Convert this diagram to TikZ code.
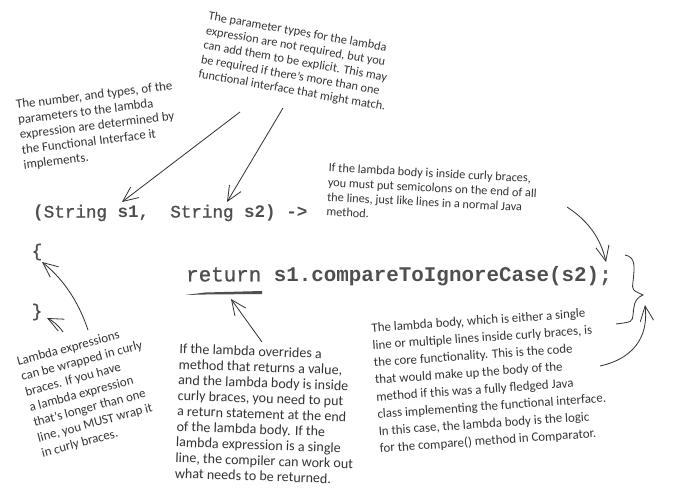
\documentclass[tikz,border=0pt]{standalone}
\usepackage{fontspec}
\setmainfont{Carlito}
\newfontfamily\codefont{Liberation Mono}[UprightFeatures={FakeBold=1.2}]
\usetikzlibrary{arrows.meta,positioning}

\definecolor{ink}{HTML}{333333}
\definecolor{codegray}{HTML}{4F4F4F}
\tikzset{
  note/.style={text=ink,align=left,inner sep=0pt,font=\fontsize{10.5}{12.5}\selectfont},
  code/.style={text=codegray,inner sep=0pt,font=\codefont\fontsize{15}{18}\selectfont},
  pen/.style={draw=ink,line width=0.7pt},
  barb/.style={pen,-{Straight Barb[length=4.5mm,width=4mm]}}
}

\begin{document}
\begin{tikzpicture}[x=0.03cm,y=-0.03cm]
\useasboundingbox (0,0) rectangle (688,496);

% the code
\node (sig) at (33,213) [code,anchor=west] {\textbf{(}String \textbf{s1,}\ \ String \textbf{s2) ->}};
\node (lbr) at (37,252) [code] {\{};
\node (body) at (186,276) [code,anchor=west,font=\codefont\fontsize{17.8}{20}\selectfont] {return \textbf{s1.compareToIgnoreCase(s2)};};
\node (rbr) at (37,312) [code] {\}};

% the notes
\node (number) at (98,126) [note,rotate=7,font=\fontsize{11}{13}\selectfont] {The number, and types, of the\\parameters to the lambda\\expression are determined by\\the Functional Interface it\\implements.};
\node (types) at (297,62) [note,rotate=-10] {The parameter types for the lambda\\expression are not required, but you\\can add them to be explicit. This may\\be required if there's more than one\\functional interface that might match.};
\node (semi) at (432,195) [note,rotate=-3] {If the lambda body is inside curly braces,\\you must put semicolons on the end of all\\the lines, just like lines in a normal Java\\method.};
\node (wrap) at (90,392) [note,rotate=15,font=\fontsize{11}{13.5}\selectfont] {Lambda expressions\\can be wrapped in curly\\braces. If you have\\a lambda expression\\that's longer than one\\line, you MUST wrap it\\in curly braces.};
\node (ret) at (266,414) [note,rotate=-2,font=\fontsize{12}{13.3}\selectfont] {If the lambda overrides a\\method that returns a value,\\and the lambda body is inside\\curly braces, you need to put\\a return statement at the end\\of the lambda body. If the\\lambda expression is a single\\line, the compiler can work out\\what needs to be returned.};
\node (core) at (490,381) [note,rotate=4,font=\fontsize{11}{14.7}\selectfont] {The lambda body, which is either a single\\line or multiple lines inside curly braces, is\\the core functionality. This is the code\\that would make up the body of the\\method if this was a fully fledged Java\\class implementing the functional interface.\\In this case, the lambda body is the logic\\for the compare() method in Comparator.};

% ends of the arrows
\coordinate (A) at (240,112);
\coordinate (B) at (122,202);
\coordinate (C) at (283,108);
\coordinate (D) at (227,202);
\coordinate (E) at (567,207);
\coordinate (F) at (606,262);
\coordinate (G) at (88,330);
\coordinate (H) at (42,262);
\coordinate (I) at (63,332);
\coordinate (J) at (47,318);
\coordinate (K) at (262,342);
\coordinate (L) at (231,299);
\coordinate (M) at (600,366);
\coordinate (N) at (645,305);

\draw [barb] (A) -- (B);
\draw [barb] (C) -- (D);
\draw [barb] (E) .. controls (590,222) and (601,240) .. (F);
\draw [barb] (G) .. controls (78,300) and (62,278) .. (H);
\draw [barb] (I) .. controls (58,325) and (53,321) .. (J);
\draw [barb] (K) -- (L);
\draw [barb] (M) .. controls (640,357) and (648,330) .. (N);

% underline and brace
\fill [codegray] (185,295) -- (205,292.5) -- (262,291) -- (262,294) -- (205,294.5) -- cycle;
\draw [pen] (625,255) .. controls (637,257) and (634,270) .. (633,282)
  .. controls (632,290) .. (643,295) .. controls (633,299) and (634,308) .. (633,315)
  .. controls (632,322) .. (616,324);
\end{tikzpicture}
\end{document}
